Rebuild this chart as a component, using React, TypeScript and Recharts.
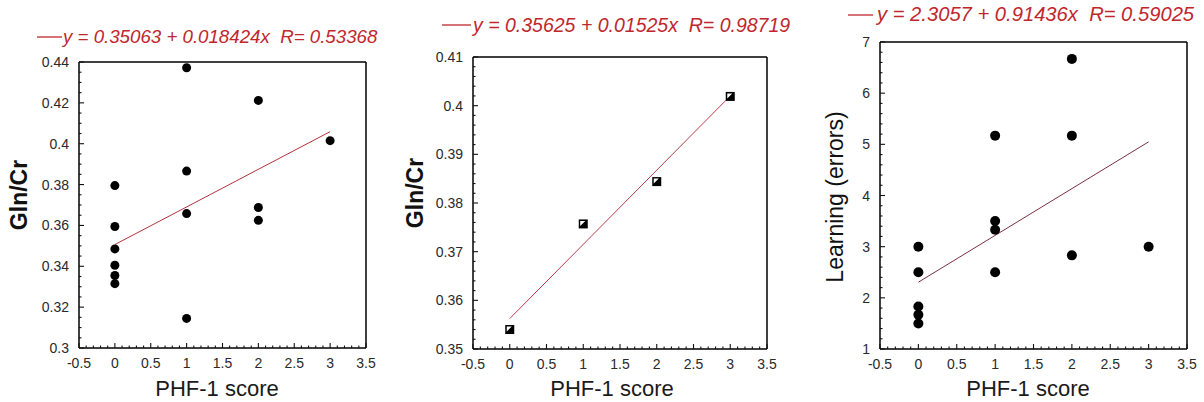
import React from "react";
import { ScatterChart, Scatter, XAxis, YAxis } from "recharts";

const FONT = '"Liberation Sans", Arial, Helvetica, sans-serif';
const H = 402;

// left panel: Gln/Cr per animal
const scoreA = [0, 0, 0, 0, 0, 0, 1, 1, 1, 1, 2, 2, 2, 3];
const glnA = [0.3795, 0.3595, 0.3485, 0.3405, 0.3355, 0.3315, 0.4372, 0.3866, 0.3658, 0.3145, 0.4212, 0.3688, 0.3625, 0.4015];
const fitA = { a: 0.35063, b: 0.018424, r: 0.53368 };

// middle panel: group means
const scoreB = [0, 1, 2, 3];
const glnB = [0.354, 0.3757, 0.3844, 0.4019];
const fitB = { a: 0.35625, b: 0.01525, r: 0.98719 };

// right panel: learning errors
const scoreC = [0, 0, 0, 0, 0, 1, 1, 1, 1, 2, 2, 2, 3];
const errorsC = [3.0, 2.5, 1.83, 1.67, 1.5, 5.17, 3.5, 3.33, 2.5, 6.67, 5.17, 2.83, 3.0];
const fitC = { a: 2.3057, b: 0.91436, r: 0.59025 };

const fitRange = [0, 3];

const xTicks = [-0.5, 0, 0.5, 1, 1.5, 2, 2.5, 3, 3.5];
const yTicksA = [0.3, 0.32, 0.34, 0.36, 0.38, 0.4, 0.42, 0.44];
const yTicksB = [0.35, 0.36, 0.37, 0.38, 0.39, 0.4, 0.41];
const yTicksC = [1, 2, 3, 4, 5, 6, 7];

function minorTicks(lo: number, hi: number, step: number) {
  const n = Math.round((hi - lo) / step);
  return Array.from({ length: n + 1 }, (_, i) => +(lo + i * step).toFixed(6));
}

function isMajor(v: number, majors: number[]) {
  return majors.some((m) => Math.abs(m - v) < 1e-7);
}

function fmt(v: number) {
  return String(+v.toFixed(4));
}

type Side = "bottom" | "top" | "left" | "right";

function makeTick(side: Side, majors: number[], labels: boolean) {
  return (props: any) => {
    const { x, y, payload } = props;
    const v = payload.value as number;
    const big = isMajor(v, majors);
    const len = big ? 5 : 2.5;
    let line;
    if (side === "bottom") line = <line x1={x} y1={y} x2={x} y2={y - len} />;
    else if (side === "top") line = <line x1={x} y1={y} x2={x} y2={y + len} />;
    else if (side === "left") line = <line x1={x} y1={y} x2={x + len} y2={y} />;
    else line = <line x1={x} y1={y} x2={x - len} y2={y} />;
    return (
      <g stroke="#111" strokeWidth={1.1}>
        {line}
        {labels && big && side === "bottom" && (
          <text x={x} y={y + 20} textAnchor="middle" fill="#2a2a2a" stroke="none" fontSize={14} fontFamily={FONT}>
            {fmt(v)}
          </text>
        )}
        {labels && big && side === "left" && (
          <text x={x - 10} y={y + 5} textAnchor="end" fill="#2a2a2a" stroke="none" fontSize={14} fontFamily={FONT}>
            {fmt(v)}
          </text>
        )}
      </g>
    );
  };
}

const circle = (r: number) => (p: any) => <circle cx={p.cx} cy={p.cy} r={r} fill="#000" />;

const halfSquare = (p: any) => (
  <g>
    <rect x={p.cx - 4.5} y={p.cy - 4.5} width={9} height={9} fill="#000" />
    <polygon points={`${p.cx - 3},${p.cy - 3} ${p.cx + 2},${p.cy - 3} ${p.cx - 3},${p.cy + 2}`} fill="#fff" />
  </g>
);

type PanelProps = {
  left: number;
  width: number;
  plot: { l: number; r: number; t: number; b: number };
  xs: number[];
  ys: number[];
  fit: { a: number; b: number; r: number };
  yDomain: [number, number];
  yMajors: number[];
  yStep: number;
  yLabel: string;
  yBold: boolean;
  yLabelDx: number;
  yLabelCy: number;
  xLabelY: number;
  xLabelCx: number;
  fitColor: string;
  shape: any;
  title: { x0: number; x1: number; ly: number; tx: number; ty: number; size: number };
};

function Panel(p: PanelProps) {
  const data = p.xs.map((x, i) => ({ x, y: p.ys[i] }));
  const fitData = fitRange.map((x) => ({ x, y: p.fit.a + p.fit.b * x }));
  const xAll = minorTicks(-0.5, 3.5, 0.1);
  const yAll = minorTicks(p.yDomain[0], p.yDomain[1], p.yStep);
  const axisLine = { stroke: "#000", strokeWidth: 1.5 };
  const eq = `y = ${p.fit.a} + ${p.fit.b}x  R= ${p.fit.r}`;
  return (
    <div style={{ position: "absolute", left: p.left, top: 0, width: p.width, height: H }}>
      <ScatterChart
        width={p.width}
        height={H}
        margin={{ top: p.plot.t - 1, right: p.width - p.plot.r - 1, bottom: H - p.plot.b - 1, left: p.plot.l - 1 }}
      >
        <XAxis
          xAxisId="b"
          type="number"
          dataKey="x"
          domain={[-0.5, 3.5]}
          ticks={xAll}
          interval={0}
          height={1}
          tickSize={0}
          tickMargin={0}
          tickLine={false}
          axisLine={axisLine}
          tick={makeTick("bottom", xTicks, true)}
          label={{
            content: () => (
              <text x={p.xLabelCx} y={p.xLabelY} textAnchor="middle" fontSize={22} fontFamily={FONT} fill="#1a1a1a">
                PHF-1 score
              </text>
            ),
          }}
        />
        <XAxis
          xAxisId="t"
          orientation="top"
          type="number"
          dataKey="x"
          domain={[-0.5, 3.5]}
          ticks={xAll}
          interval={0}
          height={1}
          tickSize={0}
          tickMargin={0}
          tickLine={false}
          axisLine={axisLine}
          tick={makeTick("top", xTicks, false)}
        />
        <YAxis
          yAxisId="l"
          type="number"
          dataKey="y"
          domain={p.yDomain}
          ticks={yAll}
          interval={0}
          width={1}
          tickSize={0}
          tickMargin={0}
          tickLine={false}
          axisLine={axisLine}
          tick={makeTick("left", p.yMajors, true)}
          label={{
            content: () => {
              const bx = p.plot.l - p.yLabelDx;
              return (
                <text
                  x={bx}
                  y={p.yLabelCy}
                  transform={`rotate(-90 ${bx} ${p.yLabelCy})`}
                  textAnchor="middle"
                  fontSize={23}
                  fontWeight={p.yBold ? "bold" : "normal"}
                  fontFamily={FONT}
                  fill="#111"
                >
                  {p.yLabel}
                </text>
              );
            },
          }}
        />
        <YAxis
          yAxisId="r"
          orientation="right"
          type="number"
          dataKey="y"
          domain={p.yDomain}
          ticks={yAll}
          interval={0}
          width={1}
          tickSize={0}
          tickMargin={0}
          tickLine={false}
          axisLine={axisLine}
          tick={makeTick("right", p.yMajors, false)}
        />
        <Scatter
          xAxisId="b"
          yAxisId="l"
          data={fitData}
          line={{ stroke: p.fitColor, strokeWidth: 1 }}
          shape={() => <g />}
          isAnimationActive={false}
        />
        <Scatter xAxisId="b" yAxisId="l" data={data} shape={p.shape} isAnimationActive={false} />
      </ScatterChart>
      <svg
        width={p.width}
        height={H}
        style={{ position: "absolute", left: 0, top: 0, pointerEvents: "none" }}
      >
        <line x1={p.title.x0} y1={p.title.ly} x2={p.title.x1} y2={p.title.ly} stroke="#c0272d" strokeWidth={1.3} />
        <text
          x={p.title.tx}
          y={p.title.ty}
          fontSize={p.title.size}
          fontStyle="italic"
          fontFamily={FONT}
          fill="#c0272d"
          style={{ whiteSpace: "pre" }}
        >
          {eq}
        </text>
      </svg>
    </div>
  );
}

export default function App() {
  return (
    <div style={{ position: "absolute", left: 0, top: 0, width: 1204, height: H, background: "#fff" }}>
      <Panel
        left={0}
        width={400}
        plot={{ l: 79, r: 366, t: 62, b: 348 }}
        xs={scoreA}
        ys={glnA}
        fit={fitA}
        yDomain={[0.3, 0.44]}
        yMajors={yTicksA}
        yStep={0.005}
        yLabel="Gln/Cr"
        yBold
        yLabelDx={52}
        yLabelCy={195}
        xLabelY={396}
        xLabelCx={217}
        fitColor="#b3323e"
        shape={circle(4.5)}
        title={{ x0: 37, x1: 62, ly: 37, tx: 63, ty: 43, size: 18.7 }}
      />
      <Panel
        left={400}
        width={400}
        plot={{ l: 73, r: 367, t: 57, b: 349 }}
        xs={scoreB}
        ys={glnB}
        fit={fitB}
        yDomain={[0.35, 0.41]}
        yMajors={yTicksB}
        yStep={0.002}
        yLabel="Gln/Cr"
        yBold
        yLabelDx={50}
        yLabelCy={193}
        xLabelY={396}
        xLabelCx={212}
        fitColor="#b83c48"
        shape={halfSquare}
        title={{ x0: 42, x1: 71, ly: 25, tx: 73, ty: 32, size: 19.5 }}
      />
      <Panel
        left={800}
        width={404}
        plot={{ l: 80, r: 387, t: 42, b: 349 }}
        xs={scoreC}
        ys={errorsC}
        fit={fitC}
        yDomain={[1, 7]}
        yMajors={yTicksC}
        yStep={0.2}
        yLabel="Learning (errors)"
        yBold={false}
        yLabelDx={37}
        yLabelCy={197}
        xLabelY={396}
        xLabelCx={228}
        fitColor="#7d2f42"
        shape={circle(5)}
        title={{ x0: 48, x1: 73, ly: 15, tx: 77, ty: 21, size: 20.2 }}
      />
    </div>
  );
}
